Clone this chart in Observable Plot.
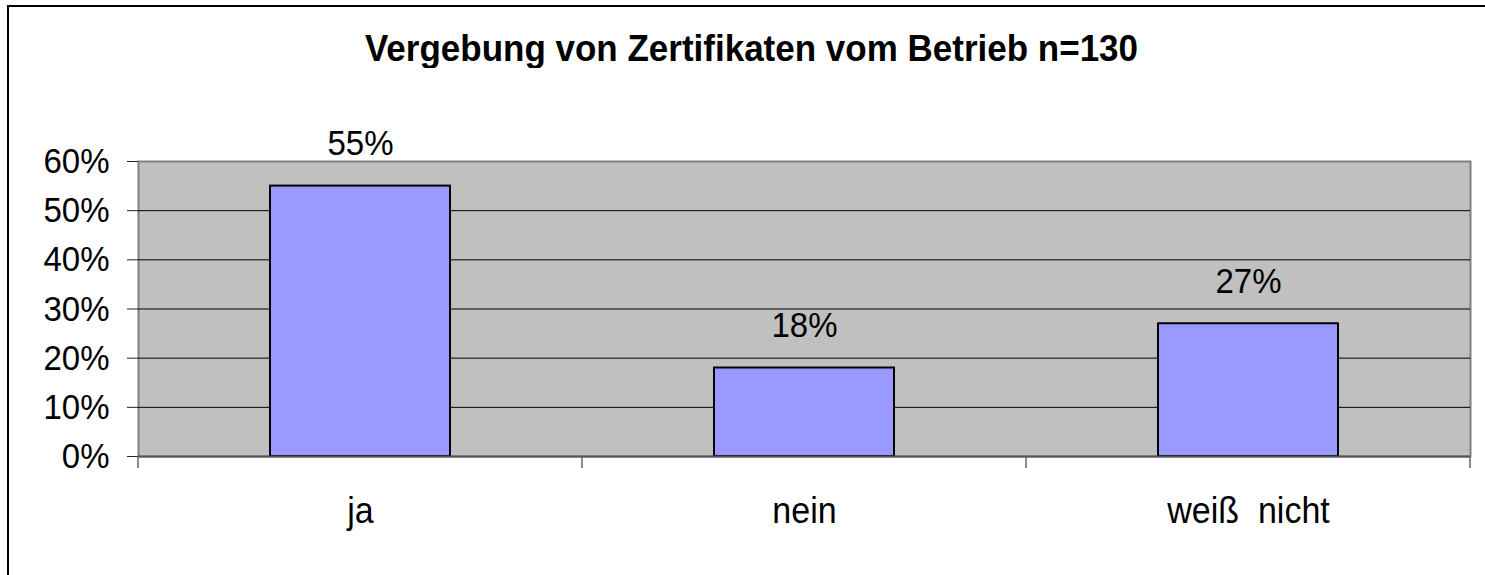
<!DOCTYPE html>
<html>
<head>
<meta charset="utf-8">
<script src="https://cdn.jsdelivr.net/npm/d3@7"></script>
<script src="https://cdn.jsdelivr.net/npm/@observablehq/plot@0.6"></script>
<style>
  html, body { margin: 0; padding: 0; background: #fff; }
  body { width: 1485px; height: 575px; overflow: hidden; position: relative; font-family: "Liberation Sans", Arial, sans-serif; }
  #frame { position: absolute; left: 7px; top: 5px; width: 1600px; height: 700px; border-left: 2px solid #000; border-top: 2px solid #000; pointer-events: none; }
  #title { position: absolute; left: 0; top: 0; width: 1503px; height: 100px; text-align: center; font-weight: bold; font-size: 35px; line-height: 35px; }
  #title span { position: relative; top: 30px; display: inline-block; transform: scaleY(1.04); }
  #chart { position: absolute; left: 0; top: 100px; }
  #chart svg text { font-family: "Liberation Sans", Arial, sans-serif; }
</style>
</head>
<body>
<div id="title"><span>Vergebung von Zertifikaten vom Betrieb n=130</span></div>
<div id="chart"></div>
<div id="frame"></div>
<script>
const categories = ["ja", "nein", "weiß  nicht"];
const values = [55, 18, 27];
const yTicks = [0, 10, 20, 30, 40, 50, 60];
const gridValues = [10, 20, 30, 40, 50];

const data = categories.map((c, i) => ({category: c, value: values[i]}));

const chart = Plot.plot({
  width: 1485,
  height: 475,
  marginLeft: 138,
  marginRight: 15,
  marginTop: 61,
  marginBottom: 119,
  style: {fontFamily: "Liberation Sans, Arial, sans-serif", background: "transparent", overflow: "visible"},
  x: {domain: categories, padding: 0, label: null},
  y: {domain: [0, 60], label: null},
  marks: [
    Plot.frame({fill: "#C0C0C0", stroke: "#808080", strokeWidth: 2}),
    Plot.ruleY(gridValues, {stroke: "#000", strokeWidth: 1}),
    Plot.axisY({ticks: yTicks, tickFormat: d => d + "%", tickSize: 11, tickPadding: 18, fontSize: 33, stroke: "#222", color: "#000", label: null}),
    Plot.axisX({tickSize: 0, tickPadding: 40, fontSize: 34, color: "#000", label: null}),
    Plot.barY(data, {x: "category", y: "value", fill: "#9999FF", stroke: "#000", strokeWidth: 2, insetLeft: 132, insetRight: 132}),
    Plot.ruleY([0], {stroke: "#555", strokeWidth: 2}),
    Plot.text(data, {x: "category", y: "value", text: d => d.value + "%", fontSize: 33, fill: "#000", lineAnchor: "bottom", dy: -31})
  ]
});

document.getElementById("chart").appendChild(chart);

// the reference's lettering is slightly condensed: taller glyphs at the same width
d3.select(chart).selectAll("text").each(function() {
  const w = this.getComputedTextLength();
  const fs = parseFloat(getComputedStyle(this).fontSize);
  this.setAttribute("font-size", (fs * 1.09).toFixed(2));
  this.setAttribute("textLength", w.toFixed(2));
  this.setAttribute("lengthAdjust", "spacingAndGlyphs");
});

// category boundary tick marks below the axis
const xs = chart.scale("x");
const ys = chart.scale("y");
const y0 = ys.apply(0);
const bounds = categories.map(c => xs.apply(c));
bounds.push(xs.apply(categories[categories.length - 1]) + xs.bandwidth);
d3.select(chart).append("g")
  .selectAll("line")
  .data(bounds)
  .join("line")
  .attr("x1", d => d).attr("x2", d => d)
  .attr("y1", y0).attr("y2", y0 + 12)
  .attr("stroke", "#666")
  .attr("stroke-width", 1.5);
</script>
</body>
</html>
